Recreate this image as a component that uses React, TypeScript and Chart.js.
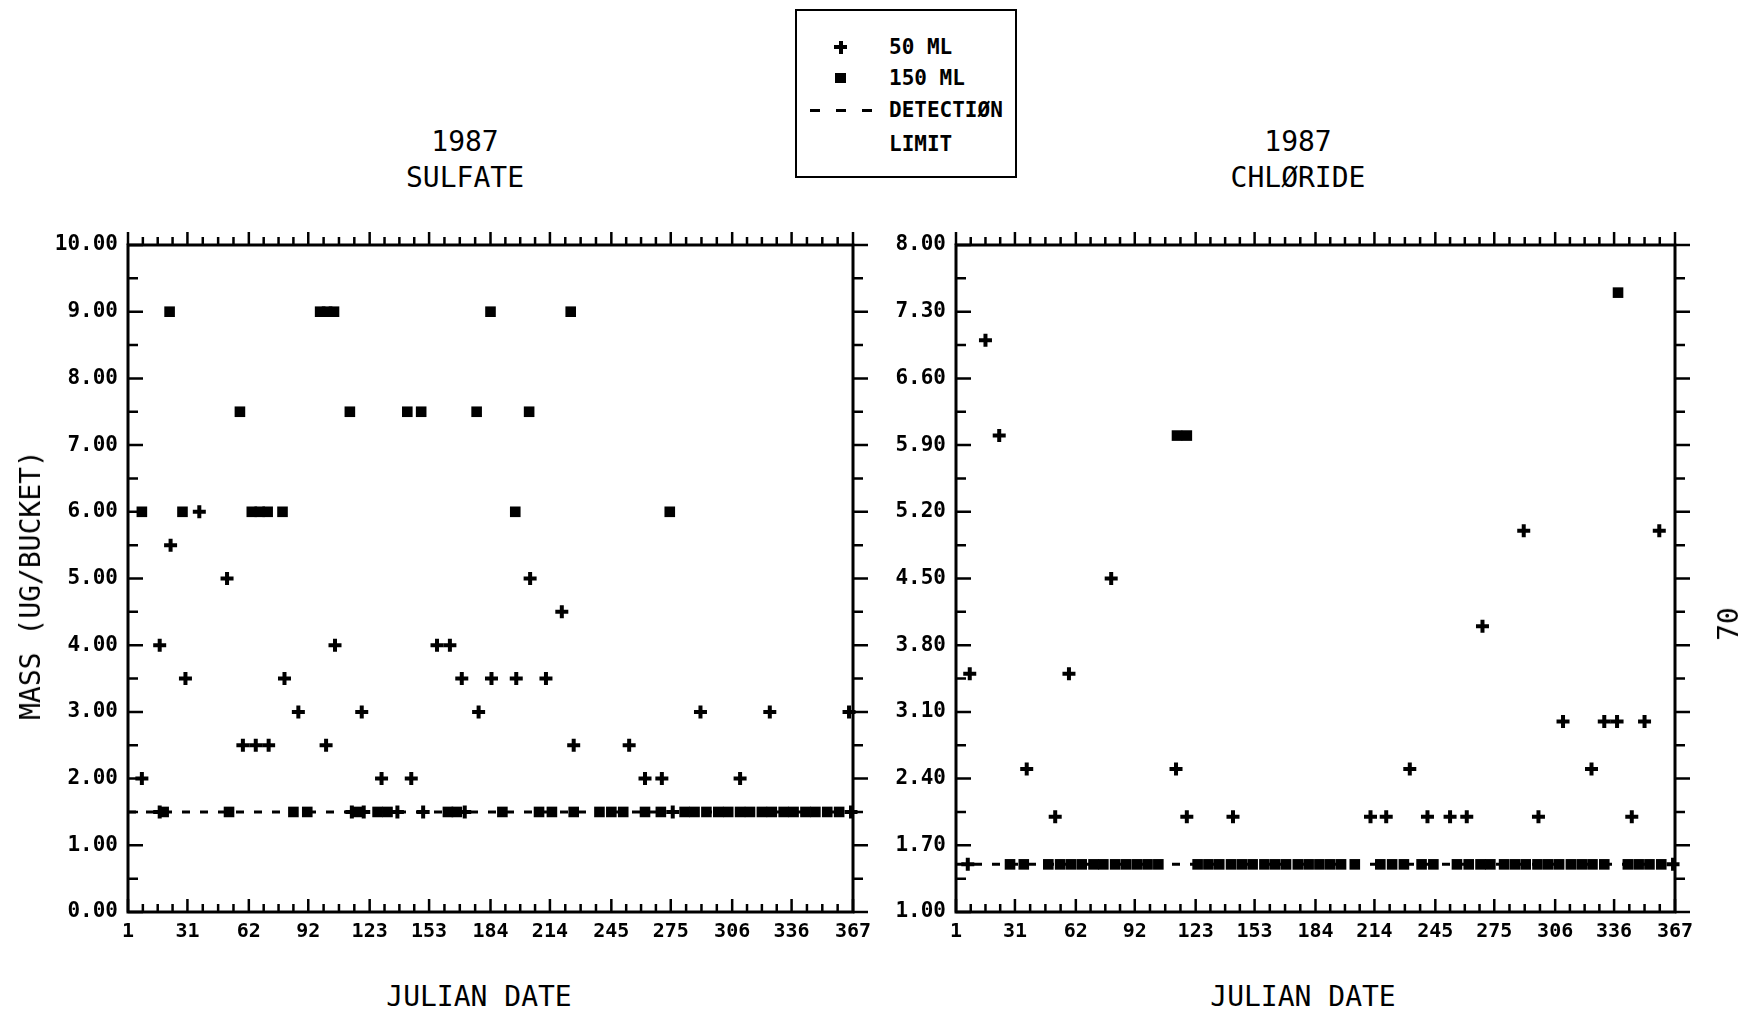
import React, { useEffect, useRef } from "react";
import { Chart, registerables } from "chart.js";
Chart.register(...registerables);

const FONT = "'DejaVu Sans Mono', 'Liberation Mono', monospace";

// ---------- data ----------
const julianDateTicks = [1, 31, 62, 92, 123, 153, 184, 214, 245, 275, 306, 336, 367];
const sulfateYTicks = [0, 1, 2, 3, 4, 5, 6, 7, 8, 9, 10];
const chlorideYTicks = [1.0, 1.7, 2.4, 3.1, 3.8, 4.5, 5.2, 5.9, 6.6, 7.3, 8.0];
const detectionLimit = 1.5;

// Sulfate, 50 ML (above detection limit)
const sulfate50Days = [8, 17, 22.5, 30, 37, 51, 59, 65.5, 72, 80, 87, 101, 105.5, 119, 129, 144, 157, 163.5, 169.5, 178, 184.5, 197, 204, 212, 220, 226, 254, 262, 270.5, 290, 310, 325, 365];
const sulfate50Values = [2.0, 4.0, 5.5, 3.5, 6.0, 5.0, 2.5, 2.5, 2.5, 3.5, 3.0, 2.5, 4.0, 3.0, 2.0, 2.0, 4.0, 4.0, 3.5, 3.0, 3.5, 3.5, 5.0, 3.5, 4.5, 2.5, 2.5, 2.0, 2.0, 3.0, 2.0, 3.0, 3.0];
// Sulfate, 50 ML at detection limit
const sulfate50DetDays = [17, 114, 120, 137, 150, 171, 276, 366];
// Sulfate, 150 ML (above detection limit)
const sulfate150Days = [8, 22, 28.5, 57.5, 63.5, 67.5, 71.5, 79, 98, 101.5, 105, 113, 142, 149, 177, 184, 196.5, 203.5, 224.5, 274.5];
const sulfate150Values = [6.0, 9.0, 6.0, 7.5, 6.0, 6.0, 6.0, 6.0, 9.0, 9.0, 9.0, 7.5, 7.5, 7.5, 7.5, 9.0, 6.0, 7.5, 9.0, 6.0];
// Sulfate, 150 ML at detection limit
const sulfate150DetDays = [19, 52, 84.5, 91.5, 117, 127, 132, 162.5, 167, 190, 208.5, 215, 226, 239, 245, 251, 262, 270, 282, 287, 293, 299, 304, 310, 315, 321, 326, 332, 337, 343, 348, 354, 360];

// Chloride, 50 ML
const chloride50Days = [8, 16, 23, 37, 51.5, 58.5, 80, 113, 118.5, 142, 212, 220, 232, 241, 252.5, 261, 269, 290, 297.5, 310, 324.5, 331, 337.5, 345, 351.5, 359];
const chloride50Values = [3.5, 7.0, 6.0, 2.5, 2.0, 3.5, 4.5, 2.5, 2.0, 2.0, 2.0, 2.0, 2.5, 2.0, 2.0, 2.0, 4.0, 5.0, 2.0, 3.0, 2.5, 3.0, 3.0, 2.0, 3.0, 5.0];
const chloride50DetDays = [7, 366];
// Chloride, 150 ML
const chloride150Days = [113.5, 118.5, 338];
const chloride150Values = [6.0, 6.0, 7.5];
const chloride150DetDays = [28.5, 35.5, 48, 54, 59.5, 65, 71, 76, 82, 87.5, 93, 98.5, 104, 124, 129.5, 135, 141, 146.5, 152, 158, 163.5, 169, 175, 180.5, 186, 191.5, 197, 204, 217, 223, 229, 238, 244, 256, 262, 268, 273, 280, 285.5, 291, 297, 302.5, 308, 314, 319.5, 325, 331, 343, 348.5, 354, 360];

// ---------- layout ----------
const CANVAS_TOP = 200;
const CANVAS_H = 760;
const PLOT_TOP = 245;
const PLOT_BOTTOM = 912;

function makeAxesPlugin(xMajor: number[], yMajor: number[]) {
  return {
    id: "plotterAxes",
    beforeDatasetsDraw(chart: any) {
      const { ctx, chartArea: a } = chart;
      const xs = chart.scales.x;
      const ys = chart.scales.y;
      ctx.save();
      ctx.strokeStyle = "#000";
      ctx.lineWidth = 3;
      ctx.strokeRect(a.left, a.top, a.right - a.left, a.bottom - a.top);
      ctx.lineWidth = 2.5;
      ctx.beginPath();
      const xMinor: number[] = [];
      for (let i = 0; i < xMajor.length - 1; i++) {
        const p = xMajor[i];
        const q = xMajor[i + 1];
        for (let k = 1; k <= 3; k++) xMinor.push(p + ((q - p) * k) / 4);
      }
      const drawX = (v: number, len: number) => {
        const px = xs.getPixelForValue(v);
        ctx.moveTo(px, a.bottom);
        ctx.lineTo(px, a.bottom - len);
        ctx.moveTo(px, a.top);
        ctx.lineTo(px, a.top - len);
      };
      xMajor.forEach((v) => drawX(v, 13));
      xMinor.forEach((v) => drawX(v, 8));
      const yMinor: number[] = [];
      for (let i = 0; i < yMajor.length - 1; i++) yMinor.push((yMajor[i] + yMajor[i + 1]) / 2);
      const drawY = (v: number, len: number) => {
        const py = ys.getPixelForValue(v);
        ctx.moveTo(a.left, py);
        ctx.lineTo(a.left + len, py);
        ctx.moveTo(a.right, py);
        ctx.lineTo(a.right + len, py);
      };
      yMajor.forEach((v) => drawY(v, 15));
      yMinor.forEach((v) => drawY(v, 10));
      ctx.stroke();
      ctx.restore();
    },
  };
}

type PanelProps = {
  canvasLeft: number;
  canvasWidth: number;
  plotLeft: number;
  plotRight: number;
  yMin: number;
  yMax: number;
  yTicks: number[];
  d50: number[];
  v50: number[];
  d50det: number[];
  d150: number[];
  v150: number[];
  d150det: number[];
};

function Panel(p: PanelProps) {
  const ref = useRef<HTMLCanvasElement>(null);
  useEffect(() => {
    if (!ref.current) return;
    const crosses = p.d50
      .map((d, i) => ({ x: d, y: p.v50[i] }))
      .concat(p.d50det.map((d) => ({ x: d, y: detectionLimit })));
    const squares = p.d150
      .map((d, i) => ({ x: d, y: p.v150[i] }))
      .concat(p.d150det.map((d) => ({ x: d, y: detectionLimit })));
    const chart = new Chart(ref.current, {
      type: "scatter",
      data: {
        datasets: [
          {
            label: "50 ML",
            data: crosses,
            pointStyle: "cross",
            pointRadius: 6.5,
            borderWidth: 4,
            borderColor: "#000",
            backgroundColor: "#000",
            clip: false,
          } as any,
          {
            label: "150 ML",
            data: squares,
            pointStyle: "rect",
            pointRadius: 7.5,
            borderWidth: 0,
            borderColor: "#000",
            backgroundColor: "#000",
            clip: false,
          } as any,
          {
            label: "DETECTION LIMIT",
            data: [
              { x: julianDateTicks[0], y: detectionLimit },
              { x: julianDateTicks[julianDateTicks.length - 1], y: detectionLimit },
            ],
            showLine: true,
            pointRadius: 0,
            borderColor: "#000",
            borderWidth: 3,
            borderDash: [8, 10],
          } as any,
        ],
      },
      options: {
        animation: false,
        responsive: false,
        devicePixelRatio: 1,
        events: [],
        layout: {
          autoPadding: false,
          padding: {
            left: 0,
            top: PLOT_TOP - CANVAS_TOP,
            right: p.canvasLeft + p.canvasWidth - p.plotRight,
            bottom: 0,
          },
        },
        plugins: { legend: { display: false }, tooltip: { enabled: false } },
        scales: {
          x: {
            type: "linear",
            min: 1,
            max: 367,
            afterBuildTicks: (s: any) => {
              s.ticks = julianDateTicks.map((v) => ({ value: v }));
            },
            afterFit: (s: any) => {
              s.height = CANVAS_TOP + CANVAS_H - PLOT_BOTTOM;
            },
            grid: { display: false, drawTicks: false },
            border: { display: false },
            ticks: {
              autoSkip: false,
              maxRotation: 0,
              minRotation: 0,
              padding: 8,
              color: "#000",
              font: { family: FONT, size: 20, weight: "bold" },
              callback: (v: any) => String(v),
            },
          },
          y: {
            type: "linear",
            min: p.yMin,
            max: p.yMax,
            afterBuildTicks: (s: any) => {
              s.ticks = p.yTicks.map((v) => ({ value: v }));
            },
            afterFit: (s: any) => {
              s.width = p.plotLeft - p.canvasLeft;
            },
            grid: { display: false, drawTicks: false },
            border: { display: false },
            ticks: {
              padding: 10,
              color: "#000",
              font: { family: FONT, size: 21, weight: "bold" },
              callback: (v: any) => Number(v).toFixed(2),
            },
          },
        },
      } as any,
      plugins: [makeAxesPlugin(julianDateTicks, p.yTicks)],
    });
    return () => chart.destroy();
  }, []);
  return (
    <canvas
      ref={ref}
      width={p.canvasWidth}
      height={CANVAS_H}
      style={{
        position: "absolute",
        left: p.canvasLeft,
        top: CANVAS_TOP,
        width: p.canvasWidth,
        height: CANVAS_H,
      }}
    />
  );
}

function Text(props: { x: number; y: number; size: number; bold?: boolean; rotate?: number; children: React.ReactNode }) {
  return (
    <div
      style={{
        position: "absolute",
        left: props.x,
        top: props.y,
        transform: `translate(-50%, -50%) rotate(${props.rotate || 0}deg)`,
        fontFamily: FONT,
        fontSize: props.size,
        fontWeight: props.bold ? "bold" : "normal",
        lineHeight: `${props.size}px`,
        whiteSpace: "pre",
        color: "#000",
      }}
    >
      {props.children}
    </div>
  );
}

function LeftText(props: { x: number; y: number; size: number; children: React.ReactNode }) {
  return (
    <div
      style={{
        position: "absolute",
        left: props.x,
        top: props.y - props.size / 2,
        fontFamily: FONT,
        fontSize: props.size,
        fontWeight: "bold",
        lineHeight: `${props.size}px`,
        whiteSpace: "pre",
        color: "#000",
      }}
    >
      {props.children}
    </div>
  );
}

function Legend() {
  const bar = (l: number, t: number, w: number, h: number) => (
    <div style={{ position: "absolute", left: l, top: t, width: w, height: h, background: "#000" }} />
  );
  return (
    <>
      <div
        style={{
          position: "absolute",
          left: 795,
          top: 9,
          width: 222,
          height: 169,
          border: "2.5px solid #000",
          boxSizing: "border-box",
        }}
      />
      {bar(834, 45, 13, 4)}
      {bar(838.5, 40.5, 4, 13)}
      {bar(835, 73, 11, 10)}
      {bar(810, 109, 10, 3)}
      {bar(836, 109, 10, 3)}
      {bar(862, 109, 10, 3)}
      <LeftText x={889} y={47} size={21}>50 ML</LeftText>
      <LeftText x={889} y={78} size={21}>150 ML</LeftText>
      <LeftText x={889} y={110} size={21}>DETECTIØN</LeftText>
      <LeftText x={889} y={144} size={21}>LIMIT</LeftText>
    </>
  );
}

export default function App() {
  return (
    <div style={{ position: "absolute", left: 0, top: 0, width: 1746, height: 1013, background: "#fff", overflow: "hidden" }}>
      <Panel
        canvasLeft={0}
        canvasWidth={890}
        plotLeft={128}
        plotRight={853}
        yMin={0}
        yMax={10}
        yTicks={sulfateYTicks}
        d50={sulfate50Days}
        v50={sulfate50Values}
        d50det={sulfate50DetDays}
        d150={sulfate150Days}
        v150={sulfate150Values}
        d150det={sulfate150DetDays}
      />
      <Panel
        canvasLeft={890}
        canvasWidth={856}
        plotLeft={956}
        plotRight={1675}
        yMin={1}
        yMax={8}
        yTicks={chlorideYTicks}
        d50={chloride50Days}
        v50={chloride50Values}
        d50det={chloride50DetDays}
        d150={chloride150Days}
        v150={chloride150Values}
        d150det={chloride150DetDays}
      />
      <Text x={465} y={142} size={28}>1987</Text>
      <Text x={465} y={178} size={28}>SULFATE</Text>
      <Text x={1298} y={142} size={28}>1987</Text>
      <Text x={1298} y={178} size={28}>CHLØRIDE</Text>
      <Text x={479} y={997} size={28}>JULIAN DATE</Text>
      <Text x={1303} y={997} size={28}>JULIAN DATE</Text>
      <Text x={31} y={585} size={28} rotate={-90}>MASS (UG/BUCKET)</Text>
      <Text x={1729} y={624} size={28} rotate={-90}>70</Text>
      <Legend />
    </div>
  );
}
